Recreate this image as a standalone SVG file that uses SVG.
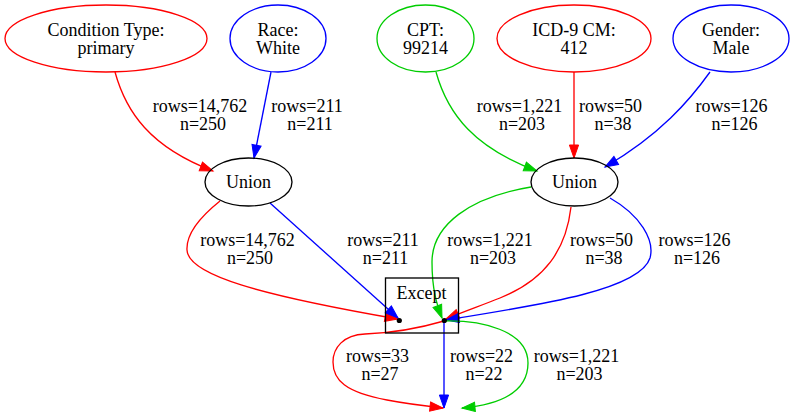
<svg xmlns="http://www.w3.org/2000/svg" width="794" height="415" viewBox="0 0 794 415">
<style>
text{font-family:'Liberation Serif','Times New Roman',serif;font-size:18px;fill:#000;text-anchor:middle}
.n{fill:none;stroke-width:1.33}
.e{fill:none;stroke-width:1.33}
.r{stroke:#ff0000}.b{stroke:#0000ff}.g{stroke:#00cd00}.k{stroke:#000}
</style>
<defs>
<marker id="ar" markerUnits="userSpaceOnUse" markerWidth="16" markerHeight="12" viewBox="0 -6 14 12" refX="13" refY="0" orient="auto"><path d="M0,-4.6L13,0L0,4.6Z" fill="#ff0000" stroke="#ff0000"/></marker>
<marker id="ab" markerUnits="userSpaceOnUse" markerWidth="16" markerHeight="12" viewBox="0 -6 14 12" refX="13" refY="0" orient="auto"><path d="M0,-4.6L13,0L0,4.6Z" fill="#0000ff" stroke="#0000ff"/></marker>
<marker id="ag" markerUnits="userSpaceOnUse" markerWidth="16" markerHeight="12" viewBox="0 -6 14 12" refX="13" refY="0" orient="auto"><path d="M0,-4.6L13,0L0,4.6Z" fill="#00cd00" stroke="#00cd00"/></marker>
</defs>
<rect width="794" height="415" fill="#fff"/>
<g id="connectors">
<path class="e r" d="M115,72 C126,112 150,147 213,171" marker-end="url(#ar)"/>
<path class="e b" d="M271,72 L254,158" marker-end="url(#ab)"/>
<path class="e g" d="M436,72 C448,115 475,148 537,171" marker-end="url(#ag)"/>
<path class="e r" d="M574,72 L574,158" marker-end="url(#ar)"/>
<path class="e b" d="M710,72 C690,100 660,135 605,167" marker-end="url(#ab)"/>
<path class="e r" d="M220,201 C200,217 186,233 187,250 C188,275 260,295 398,319" marker-end="url(#ar)"/>
<path class="e b" d="M270,203 L398,318" marker-end="url(#ab)"/>
<path class="e g" d="M531,187 C470,197 432,225 432,262 C432,290 437,305 442,318" marker-end="url(#ag)"/>
<path class="e r" d="M571,207 C566,250 545,280 500,298 C480,306 465,311 446,319" marker-end="url(#ar)"/>
<path class="e b" d="M610,198 C640,215 655,240 650,258 C640,290 540,305 446,320" marker-end="url(#ab)"/>
<path class="e r" d="M444,321 C420,328 395,333 365,334 C343,335 333,348 333,362 C333,380 345,392 387,400 C408,404 425,406 443,408" marker-end="url(#ar)"/>
<path class="e b" d="M444,321 L444,408" marker-end="url(#ab)"/>
<path class="e g" d="M444,321 C480,320 528,330 528,363 C528,395 495,405 462,408" marker-end="url(#ag)"/>
<text x="200" y="112">rows=14,762</text><text x="203" y="130">n=250</text>
<text x="307" y="112">rows=211</text><text x="310" y="130">n=211</text>
<text x="519.5" y="112">rows=1,221</text><text x="522" y="130">n=203</text>
<text x="610.5" y="112">rows=50</text><text x="613" y="130">n=38</text>
<text x="731.5" y="112">rows=126</text><text x="734.5" y="130">n=126</text>
<text x="247.5" y="246">rows=14,762</text><text x="250" y="264">n=250</text>
<text x="383" y="246">rows=211</text><text x="385.5" y="264">n=211</text>
<text x="490" y="246">rows=1,221</text><text x="493" y="264">n=203</text>
<text x="601.5" y="246">rows=50</text><text x="604" y="264">n=38</text>
<text x="694.5" y="246">rows=126</text><text x="697" y="264">n=126</text>
<text x="377.5" y="362">rows=33</text><text x="380" y="380">n=27</text>
<text x="481.5" y="362">rows=22</text><text x="484" y="380">n=22</text>
<text x="576.5" y="362">rows=1,221</text><text x="579.5" y="380">n=203</text>
</g>
<g id="cond"><ellipse class="n r" cx="106" cy="38.5" rx="101" ry="33.5"/><text x="106" y="36">Condition Type:</text><text x="106" y="54">primary</text></g>
<g id="race"><ellipse class="n b" cx="278" cy="38.5" rx="48" ry="33.5"/><text x="278" y="36">Race:</text><text x="278" y="54">White</text></g>
<g id="cpt"><ellipse class="n g" cx="425.5" cy="38.5" rx="48.5" ry="33.5"/><text x="425.5" y="36">CPT:</text><text x="425.5" y="54">99214</text></g>
<g id="icd"><ellipse class="n r" cx="574" cy="38.5" rx="77" ry="33.5"/><text x="574" y="36">ICD-9 CM:</text><text x="574" y="54">412</text></g>
<g id="gender"><ellipse class="n b" cx="731" cy="38.5" rx="58" ry="33.5"/><text x="731" y="36">Gender:</text><text x="731" y="54">Male</text></g>
<g id="union1"><ellipse class="n k" cx="248.5" cy="182" rx="43.5" ry="24"/><text x="248.5" y="188">Union</text></g>
<g id="union2"><ellipse class="n k" cx="574.5" cy="182" rx="43.5" ry="24"/><text x="574.5" y="188">Union</text></g>
<g id="except"><rect class="n k" x="385.5" y="278" width="73" height="55"/><text x="421.5" y="299">Except</text><circle cx="399.3" cy="320.5" r="2.6" fill="#000"/><circle cx="444.3" cy="320.5" r="2.6" fill="#000"/></g>
</svg>
